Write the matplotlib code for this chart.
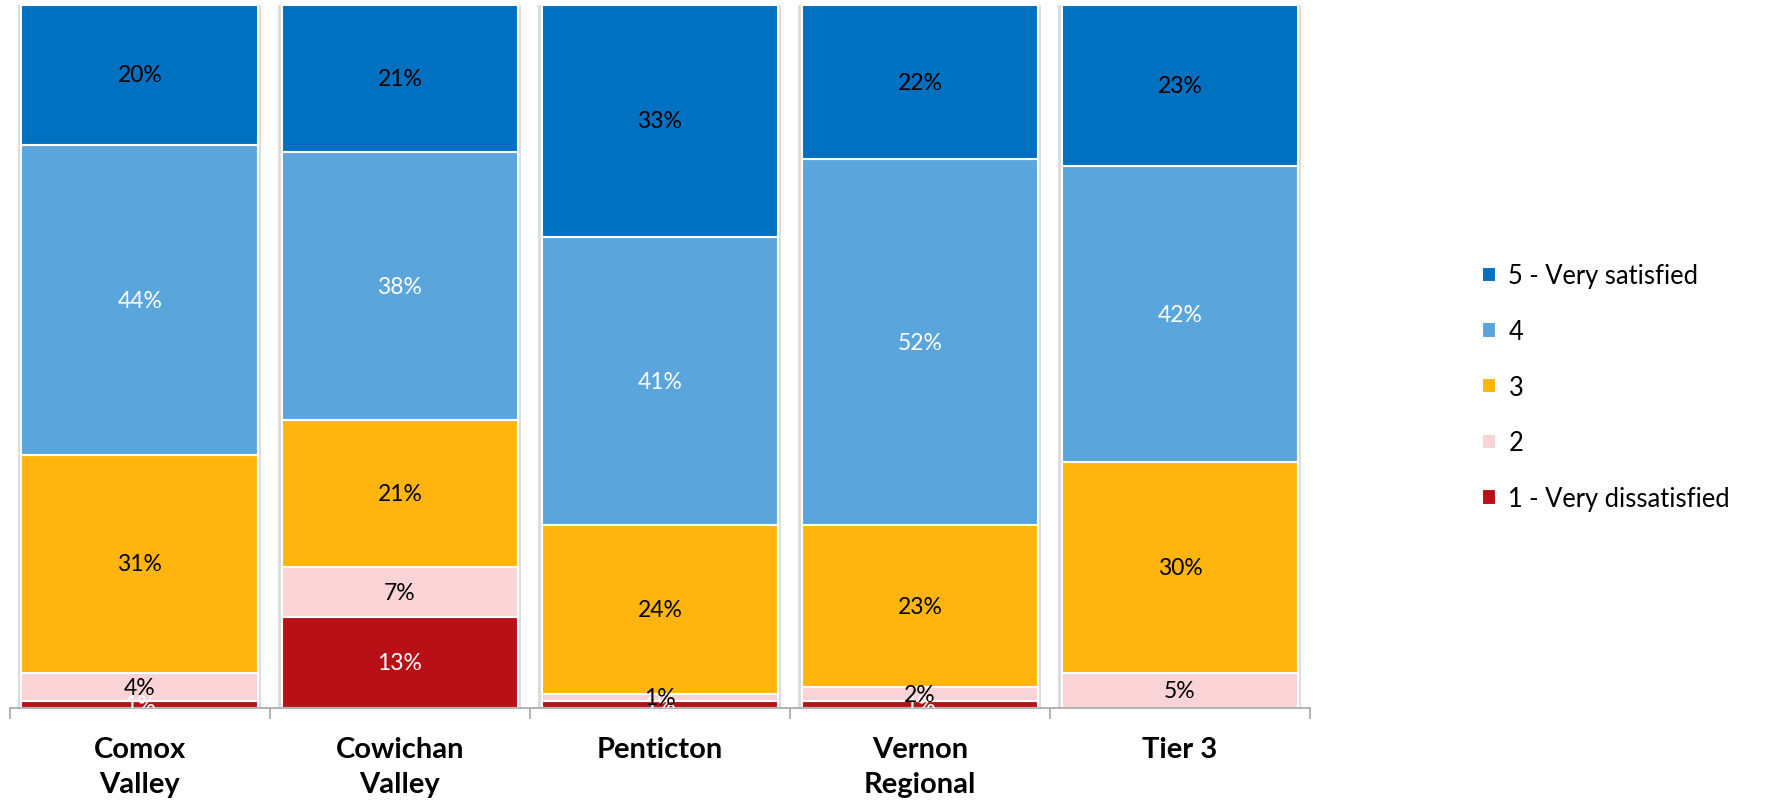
import matplotlib
matplotlib.use("Agg")
import matplotlib.pyplot as plt
import numpy as np

plt.rcParams['font.family'] = ['Lato', 'DejaVu Sans']

categories = ["Comox\nValley", "Cowichan\nValley", "Penticton", "Vernon\nRegional", "Tier 3"]
series_names = ["1 - Very dissatisfied", "2", "3", "4", "5 - Very satisfied"]
very_dissatisfied = [1, 13, 1, 1, 0]
rating_2 = [4, 7, 1, 2, 5]
rating_3 = [31, 21, 24, 23, 30]
rating_4 = [44, 38, 41, 52, 42]
very_satisfied = [20, 21, 33, 22, 23]

colors = ["#B91018", "#F9D3D5", "#FFB50D", "#5BA5DD", "#0070C0"]
label_colors = ["white", "black", "black", "white", "black"]


def main():
    fig = plt.figure(figsize=(17.81, 8.04), dpi=100)
    ax = fig.add_axes([0.0055, 0.118, 0.73, 0.875])

    x = np.arange(len(categories))
    width = 0.91
    data = [very_dissatisfied, rating_2, rating_3, rating_4, very_satisfied]

    # faint shadow behind each bar
    ax.bar(x, [100] * len(x), width + 0.025, color="#dcdcdc", zorder=1)

    bottom = np.zeros(len(x))
    handles = []
    for vals, name, col, lc in zip(data, series_names, colors, label_colors):
        vals = np.array(vals, dtype=float)
        b = ax.bar(x, vals, width, bottom=bottom, color=col, edgecolor="white",
                   linewidth=1.5, label=name, zorder=2)
        handles.append(b)
        for i in range(len(x)):
            if vals[i] > 0:
                ax.text(x[i], bottom[i] + vals[i] / 2, "%d%%" % vals[i],
                        ha="center", va="center", fontsize=16.5, color=lc,
                        zorder=3, clip_on=True)
        bottom += vals

    ax.set_xlim(-0.5, len(x) - 0.5)
    ax.set_ylim(0, 100)
    ax.set_yticks([])
    for s in ["top", "right", "left"]:
        ax.spines[s].set_visible(False)
    ax.spines["bottom"].set_color("#a6a6a6")
    ax.spines["bottom"].set_linewidth(1.2)

    ax.set_xticks(np.arange(-0.5, len(x)), minor=True)
    ax.tick_params(axis="x", which="minor", length=8, color="#a6a6a6", width=1.2)
    ax.set_xticks(x)
    ax.set_xticklabels(categories, fontsize=21, fontweight="bold", linespacing=1.45)
    ax.tick_params(axis="x", which="major", length=0, pad=20)

    fig.legend(handles[::-1], series_names[::-1], loc="center left",
               bbox_to_anchor=(0.819, 0.517), frameon=False, fontsize=18.4,
               handlelength=0.55, handleheight=0.55, handletextpad=0.5,
               labelspacing=1.2)

    fig.savefig("out.png", dpi=100)


if __name__ == '__main__':
    main()
